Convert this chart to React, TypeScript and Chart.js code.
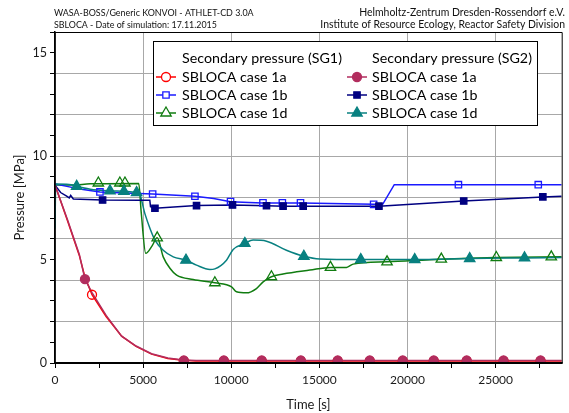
import React, { useEffect, useRef } from "react";
import { Chart, registerables } from "chart.js";
Chart.register(...registerables);

const FONT = "Lato, 'Open Sans', sans-serif";

// Header / legend texts
const headerLeft = ["WASA-BOSS/Generic KONVOI - ATHLET-CD 3.0A", "SBLOCA - Date of simulation: 17.11.2015"];
const headerRight = ["Helmholtz-Zentrum Dresden-Rossendorf e.V.", "Institute of Resource Ecology, Reactor Safety Division"];
const legendTitles = ["Secondary pressure (SG1)", "Secondary pressure (SG2)"];
const caseNames = ["SBLOCA case 1a", "SBLOCA case 1b", "SBLOCA case 1d"];
const xTitle = "Time [s]";
const yTitle = "Pressure [MPa]";

// Axis ticks
const xTickValues = [0, 2500, 5000, 7500, 10000, 12500, 15000, 17500, 20000, 22500, 25000, 27500];
const xLabelValues = [0, 5000, 10000, 15000, 20000, 25000];
const yTickValues = [0, 1, 2, 3, 4, 5, 6, 7, 8, 9, 10, 11, 12, 13, 14, 15, 16];
const yLabelValues = [0, 5, 10, 15];
const yGridValues = [2, 4, 6, 8, 10, 12, 14];

// Series: [time s, pressure MPa]
const sg1Case1a: [number, number][] = [[0, 8.6], [700, 6.9], [1380, 5.2], [1700, 4.15], [2100, 3.3], [2900, 2.25], [3780, 1.3], [4600, 0.8], [5480, 0.43], [6400, 0.22], [7260, 0.13], [8000, 0.1], [28750, 0.1]];
const sg1Case1aMarks: [number, number][] = [[2100, 3.3], [7310, 0.1], [9580, 0.1], [11730, 0.1], [13950, 0.1], [16040, 0.1], [17860, 0.1], [19730, 0.1], [21490, 0.1], [23360, 0.1], [25450, 0.1], [27550, 0.1]];
const sg2Case1a: [number, number][] = [[0, 8.6], [700, 6.95], [1380, 5.25], [1700, 4.05], [2100, 3.4], [2900, 2.3], [3780, 1.3], [4600, 0.82], [5480, 0.45], [6400, 0.24], [7260, 0.15], [8000, 0.12], [28750, 0.12]];
const sg2Case1aMarks: [number, number][] = [[1700, 4.05], [7310, 0.12], [9580, 0.12], [11730, 0.12], [13950, 0.12], [16040, 0.12], [17860, 0.12], [19730, 0.12], [21490, 0.12], [23360, 0.12], [25450, 0.12], [27550, 0.12]];

const sg1Case1b: [number, number][] = [[0, 8.65], [600, 8.55], [1500, 8.4], [2550, 8.27], [4000, 8.22], [5540, 8.17], [7940, 8.06], [9000, 7.95], [9960, 7.8], [11000, 7.76], [11800, 7.74], [14000, 7.73], [18100, 7.67], [18600, 7.68], [19250, 8.62], [28750, 8.62]];
const sg1Case1bMarks: [number, number][] = [[2550, 8.27], [5540, 8.17], [7940, 8.06], [9960, 7.8], [11800, 7.74], [12900, 7.74], [13930, 7.74], [18080, 7.67], [22890, 8.62], [27420, 8.62]];
const sg2Case1b: [number, number][] = [[0, 8.6], [320, 8.24], [660, 8.07], [810, 7.98], [890, 8.1], [1040, 7.93], [2700, 7.88], [4820, 7.87], [5380, 7.87], [5420, 7.55], [5670, 7.48], [8030, 7.61], [10070, 7.64], [12000, 7.6], [13000, 7.58], [18380, 7.58], [23190, 7.83], [27680, 8.03], [28750, 8.06]];
const sg2Case1bMarks: [number, number][] = [[2700, 7.88], [5670, 7.48], [8030, 7.61], [10070, 7.64], [12000, 7.6], [12940, 7.58], [14080, 7.58], [18380, 7.58], [23190, 7.83], [27680, 8.03]];

const sg1Case1d: [number, number][] = [[0, 8.6], [1000, 8.6], [2000, 8.66], [4750, 8.68], [4900, 7.2], [5150, 5.3], [5500, 5.65], [5800, 6.05], [6140, 5.13], [6520, 4.58], [6900, 4.25], [7840, 4.04], [9070, 3.88], [10020, 3.68], [10300, 3.44], [10870, 3.39], [11430, 3.6], [11810, 3.92], [12280, 4.17], [12940, 4.3], [14460, 4.49], [15630, 4.62], [16540, 4.62], [16920, 4.78], [18840, 4.89], [21920, 5.02], [25040, 5.1], [28750, 5.14]];
const sg1Case1dMarks: [number, number][] = [[2460, 8.7], [3680, 8.7], [3970, 8.7], [5800, 6.05], [9070, 3.88], [12280, 4.17], [15630, 4.62], [18840, 4.89], [21920, 5.02], [25040, 5.1], [28160, 5.13]];
const sg2Case1d: [number, number][] = [[0, 6.5], [40, 8.65], [800, 8.63], [1230, 8.54], [2000, 8.4], [3120, 8.32], [3910, 8.3], [4630, 8.24], [4780, 8.2], [5100, 7.22], [5390, 6.5], [5670, 5.94], [6140, 5.45], [6710, 5.13], [7430, 4.97], [8030, 4.73], [8790, 4.52], [9070, 4.55], [9730, 4.97], [10110, 5.49], [10770, 5.78], [11240, 5.94], [12000, 5.89], [13130, 5.45], [14120, 5.16], [15020, 5.03], [17350, 5.0], [20410, 5.0], [23530, 5.05], [26640, 5.08], [28750, 5.1]];
const sg2Case1dMarks: [number, number][] = [[1230, 8.54], [3120, 8.32], [3910, 8.3], [4630, 8.24], [7430, 4.97], [10770, 5.78], [14120, 5.16], [17350, 5.0], [20410, 5.0], [23530, 5.05], [26640, 5.08]];

const X_MAX = 28750;
const Y_MAX = 16;

type Style = { color: string; shape: "circle" | "rect" | "triangle"; filled: boolean; radius: number };
const styles: Record<string, Style> = {
  sg1a: { color: "#ff0000", shape: "circle", filled: false, radius: 4.5 },
  sg2a: { color: "#b22d5e", shape: "circle", filled: true, radius: 4.5 },
  sg1b: { color: "#1a1aff", shape: "rect", filled: false, radius: 4.5 },
  sg2b: { color: "#000080", shape: "rect", filled: true, radius: 4.5 },
  sg1d: { color: "#107c10", shape: "triangle", filled: false, radius: 6 },
  sg2d: { color: "#088080", shape: "triangle", filled: true, radius: 6 },
};

const toXY = (a: [number, number][]) => a.map(([x, y]) => ({ x, y }));

function lineDs(data: [number, number][], st: Style, order: number, smooth: boolean) {
  return {
    type: "line" as const,
    data: toXY(data),
    borderColor: st.color,
    backgroundColor: st.color,
    borderWidth: 1.5,
    pointRadius: 0,
    fill: false,
    order,
    cubicInterpolationMode: smooth ? ("monotone" as const) : ("default" as const),
  };
}
function markDs(data: [number, number][], st: Style, order: number) {
  return {
    type: "line" as const,
    data: toXY(data),
    showLine: false,
    borderColor: st.color,
    backgroundColor: st.filled ? st.color : "#ffffff",
    pointStyle: st.shape,
    pointRadius: st.radius,
    pointBorderWidth: 1.3,
    pointBackgroundColor: st.filled ? st.color : "rgba(255,255,255,0)",
    pointBorderColor: st.color,
    order,
  };
}

function drawMarker(ctx: CanvasRenderingContext2D, st: Style, x: number, y: number) {
  ctx.beginPath();
  const r = st.radius;
  if (st.shape === "circle") {
    ctx.arc(x, y, r, 0, Math.PI * 2);
  } else if (st.shape === "rect") {
    const s = r * Math.SQRT1_2;
    ctx.rect(x - s, y - s, 2 * s, 2 * s);
  } else {
    const a = -Math.PI / 2;
    for (let i = 0; i < 3; i++) {
      const ang = a + (i * 2 * Math.PI) / 3;
      const px = x + r * Math.cos(ang);
      const py = y + r * Math.sin(ang);
      if (i === 0) ctx.moveTo(px, py);
      else ctx.lineTo(px, py);
    }
    ctx.closePath();
  }
  ctx.lineWidth = 1.3;
  ctx.strokeStyle = st.color;
  ctx.fillStyle = st.filled ? st.color : "#ffffff";
  ctx.fill();
  ctx.stroke();
}

function fitSize(ctx: CanvasRenderingContext2D, text: string, width: number) {
  ctx.font = `20px ${FONT}`;
  const w = ctx.measureText(text).width;
  return (20 * width) / w;
}

const overlayPlugin = {
  id: "overlay",
  afterDraw(chart: any) {
    const ctx: CanvasRenderingContext2D = chart.ctx;
    const { left, right, top, bottom } = chart.chartArea;
    ctx.save();
    // frame
    ctx.strokeStyle = "#000";
    ctx.lineWidth = 1;
    ctx.beginPath();
    ctx.moveTo(left, top + 0.5);
    ctx.lineTo(right + 0.5, top + 0.5);
    ctx.lineTo(right + 0.5, bottom);
    ctx.stroke();
    ctx.lineWidth = 2;
    ctx.beginPath();
    ctx.moveTo(left, bottom);
    ctx.lineTo(right + 1, bottom);
    ctx.stroke();
    ctx.lineWidth = 1.5;
    ctx.beginPath();
    ctx.moveTo(left, top);
    ctx.lineTo(left, bottom + 1);
    ctx.stroke();

    // header
    ctx.fillStyle = "#111";
    ctx.textBaseline = "middle";
    const hs = [
      { t: headerLeft[0], w: 200, x: 54, y: 13, align: "left" },
      { t: headerLeft[1], w: 163, x: 54, y: 25, align: "left" },
      { t: headerRight[0], w: 206, x: 565, y: 13, align: "right" },
      { t: headerRight[1], w: 245, x: 565, y: 25, align: "right" },
    ];
    for (const h of hs) {
      const s = fitSize(ctx, h.t, h.w);
      ctx.font = `${s}px ${FONT}`;
      ctx.textAlign = h.align as CanvasTextAlign;
      ctx.fillText(h.t, h.x, h.y);
    }

    // legend
    const bx = 153.5, by = 41.5, bw = 384, bh = 84;
    ctx.fillStyle = "#fff";
    ctx.fillRect(bx, by, bw, bh);
    ctx.strokeStyle = "#000";
    ctx.lineWidth = 1;
    ctx.strokeRect(bx, by, bw, bh);
    const fs = fitSize(ctx, legendTitles[0], 160);
    ctx.font = `${fs}px ${FONT}`;
    ctx.textAlign = "left";
    ctx.textBaseline = "middle";
    const rowsY = [58, 77, 95, 113];
    const cols = [
      { x0: 156, tx: 182, keys: ["sg1a", "sg1b", "sg1d"] },
      { x0: 347, tx: 372, keys: ["sg2a", "sg2b", "sg2d"] },
    ];
    cols.forEach((c, ci) => {
      ctx.fillStyle = "#000";
      ctx.fillText(legendTitles[ci], c.tx, rowsY[0]);
      c.keys.forEach((k, ri) => {
        const st = styles[k];
        const y = rowsY[ri + 1];
        ctx.strokeStyle = st.color;
        ctx.lineWidth = 1.5;
        ctx.beginPath();
        ctx.moveTo(c.x0, y);
        ctx.lineTo(c.x0 + 20, y);
        ctx.stroke();
        drawMarker(ctx, st, c.x0 + 10, y);
        ctx.fillStyle = "#000";
        ctx.fillText(caseNames[ri], c.tx, y);
      });
    });
    ctx.restore();
  },
};

export default function App() {
  const ref = useRef<HTMLCanvasElement | null>(null);
  useEffect(() => {
    if (!ref.current) return;
    const grid = "#a8a8a8";
    const clear = "rgba(0,0,0,0)";
    const chart = new Chart(ref.current, {
      type: "line",
      data: {
        datasets: [
          markDs(sg2Case1aMarks, styles.sg2a, 0),
          markDs(sg2Case1bMarks, styles.sg2b, 0),
          markDs(sg2Case1dMarks, styles.sg2d, 0),
          markDs(sg1Case1aMarks, styles.sg1a, 1),
          markDs(sg1Case1bMarks, styles.sg1b, 1),
          markDs(sg1Case1dMarks, styles.sg1d, 1),
          lineDs(sg2Case1a, styles.sg2a, 2, false),
          lineDs(sg2Case1b, styles.sg2b, 2, false),
          lineDs(sg2Case1d, styles.sg2d, 2, true),
          lineDs(sg1Case1a, styles.sg1a, 3, false),
          lineDs(sg1Case1b, styles.sg1b, 3, false),
          lineDs(sg1Case1d, styles.sg1d, 3, true),
        ] as any,
      },
      options: {
        responsive: false,
        animation: false,
        events: [],
        layout: { padding: { left: 0, right: 7, top: 32, bottom: 0 } },
        plugins: { legend: { display: false }, tooltip: { enabled: false }, title: { display: false } },
        scales: {
          x: {
            type: "linear",
            min: 0,
            max: X_MAX,
            afterFit: (s: any) => { s.height = 50; },
            afterBuildTicks: (s: any) => { s.ticks = xTickValues.map((v) => ({ value: v })); },
            ticks: {
              autoSkip: false,
              maxRotation: 0,
              padding: 5,
              color: "#1a1a1a",
              font: { family: FONT, size: 12 },
              callback: (v: any) => (xLabelValues.includes(Number(v)) ? String(v) : ""),
            },
            grid: {
              color: (c: any) => (c.tick && c.tick.value > 0 && xLabelValues.includes(c.tick.value) ? grid : clear),
              tickColor: "#000",
              tickLength: 5,
              lineWidth: 1,
            },
            border: { color: "#000", width: 2 },
            title: { display: true, text: xTitle, color: "#1a1a1a", font: { family: FONT, size: 13 }, padding: { top: 0, bottom: 0 } },
          },
          y: {
            type: "linear",
            min: 0,
            max: Y_MAX,
            afterFit: (s: any) => { s.width = 55; },
            afterBuildTicks: (s: any) => { s.ticks = yTickValues.map((v) => ({ value: v })); },
            ticks: {
              autoSkip: false,
              padding: 3,
              color: "#1a1a1a",
              font: { family: FONT, size: 12.5 },
              callback: (v: any) => (yLabelValues.includes(Number(v)) ? String(v) : ""),
            },
            grid: {
              color: (c: any) => (c.tick && yGridValues.includes(c.tick.value) ? grid : clear),
              tickColor: "#000",
              tickLength: 5,
              lineWidth: 1,
            },
            border: { color: "#000", width: 1.5 },
            title: { display: true, text: yTitle, color: "#1a1a1a", font: { family: FONT, size: 13 }, padding: { top: 12, bottom: 0 } },
          },
        },
      },
      plugins: [overlayPlugin],
    });
    return () => chart.destroy();
  }, []);
  return (
    <div style={{ position: "absolute", left: 0, top: 0, width: 569, height: 413, background: "#fff" }}>
      <canvas ref={ref} width={569} height={413} style={{ display: "block", width: 569, height: 413 }} />
    </div>
  );
}
